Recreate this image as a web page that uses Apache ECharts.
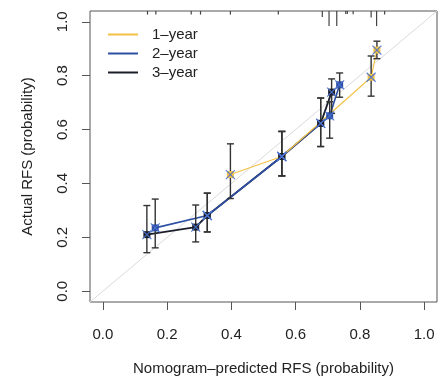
<!DOCTYPE html>
<html>
<head>
<meta charset="utf-8">
<script src="https://cdn.jsdelivr.net/npm/echarts@6/dist/echarts.min.js"></script>
<style>
html,body{margin:0;padding:0;background:#fff;}
#c{width:446px;height:381px;}
</style>
</head>
<body>
<div id="c"></div>
<script>
// ---- data ----
const axisMin = -0.04, axisMax = 1.04;
const tickValues = [0, 0.2, 0.4, 0.6, 0.8, 1.0];
const tickLabels = ['0.0', '0.2', '0.4', '0.6', '0.8', '1.0'];
const seriesNames = ['1\u2013year', '2\u2013year', '3\u2013year'];

const y1x = [0.397, 0.557, 0.835, 0.853];
const y1y = [0.433, 0.500, 0.794, 0.895];
const y1lo = [0.344, 0.428, 0.724, 0.863];
const y1hi = [0.547, 0.593, 0.873, 0.928];

const y2x = [0.163, 0.325, 0.557, 0.678, 0.706, 0.737];
const y2y = [0.235, 0.281, 0.500, 0.623, 0.651, 0.766];
const y2lo = [0.161, 0.220, 0.428, 0.537, 0.568, 0.720];
const y2hi = [0.342, 0.364, 0.593, 0.717, 0.703, 0.810];

const y3x = [0.137, 0.289, 0.325, 0.557, 0.678, 0.712];
const y3y = [0.210, 0.238, 0.281, 0.500, 0.623, 0.739];
const y3lo = [0.143, 0.183, 0.220, 0.428, 0.537, 0.660];
const y3hi = [0.318, 0.320, 0.364, 0.593, 0.717, 0.788];

const rugX = [0.139, 0.165, 0.275, 0.304, 0.397, 0.546, 0.683, 0.704, 0.728, 0.756, 0.761, 0.779, 0.835, 0.852, 0.877];
const rugCount = [1, 1, 1, 1, 1, 1, 1.7, 4.2, 4.2, 0.8, 0.8, 0.9, 1.8, 4.2, 1];

// ---- build ----
const colors = ['#F3C144', '#2C4FA3', '#1c1f2a'];
const xs = [y1x, y2x, y3x], ys = [y1y, y2y, y3y], los = [y1lo, y2lo, y3lo], his = [y1hi, y2hi, y3hi];
const font = 'Liberation Sans, Arial, Helvetica, sans-serif';
const lineZ = [2.3, 2.2, 2.1];
const lineW = [1.1, 1.6, 1.8];

const series = [];
// diagonal reference
series.push({
  type: 'line', data: [[axisMin, axisMin], [axisMax, axisMax]],
  showSymbol: false, silent: true, z: 1,
  lineStyle: { color: '#dadada', width: 1 }, legendHoverLink: false
});
// lines
for (let s = 0; s < 3; s++) {
  series.push({
    name: seriesNames[s], type: 'line', z: lineZ[s],
    data: xs[s].map((x, i) => [x, ys[s][i]]),
    showSymbol: false, color: colors[s],
    lineStyle: { color: colors[s], width: lineW[s] }
  });
}
// error bars
for (let s = 0; s < 3; s++) {
  series.push({
    type: 'custom', z: 3, silent: true,
    data: xs[s].map((x, i) => [x, los[s][i], his[s][i]]),
    renderItem: function (params, api) {
      const x = api.value(0);
      const p1 = api.coord([x, api.value(1)]);
      const p2 = api.coord([x, api.value(2)]);
      const hw = 3.5;
      const st = { stroke: '#333', lineWidth: 1.4 };
      return {
        type: 'group', children: [
          { type: 'line', shape: { x1: p1[0], y1: p1[1], x2: p2[0], y2: p2[1] }, style: st },
          { type: 'line', shape: { x1: p1[0] - hw, y1: p1[1], x2: p1[0] + hw, y2: p1[1] }, style: st },
          { type: 'line', shape: { x1: p2[0] - hw, y1: p2[1], x2: p2[0] + hw, y2: p2[1] }, style: st }
        ]
      };
    }
  });
}
// markers: squares + x
for (let s = 0; s < 3; s++) {
  const d = xs[s].map((x, i) => [x, ys[s][i]]);
  series.push({
    type: 'scatter', z: 4, silent: true, data: d,
    symbol: 'rect', symbolSize: 7,
    itemStyle: { color: colors[s], opacity: 1 }
  });
  series.push({
    type: 'scatter', z: 5, silent: true, data: d,
    symbol: 'path://M0,0L10,10M10,0L0,10', symbolSize: 9,
    itemStyle: { color: 'transparent', borderColor: '#4A72D0', borderWidth: 1.2, opacity: 0.9 }
  });
}
// rug
series.push({
  type: 'custom', z: 3, silent: true,
  data: rugX.map((x, i) => [x, rugCount[i]]),
  renderItem: function (params, api) {
    const top = api.coord([api.value(0), axisMax]);
    const len = api.value(1) * 3.6;
    return { type: 'line', shape: { x1: top[0], y1: top[1], x2: top[0], y2: top[1] + len }, style: { stroke: '#444', lineWidth: 1.2 } };
  }
});

const labelFmt = v => {
  const i = tickValues.findIndex(t => Math.abs(t - v) < 1e-9);
  return i >= 0 ? tickLabels[i] : '';
};

const chart = echarts.init(document.getElementById('c'), null, { renderer: 'canvas' });
chart.setOption({
  animation: false,
  backgroundColor: '#fff',
  textStyle: { fontFamily: font },
  grid: { left: 90, right: 9, top: 11, bottom: 76, show: true, borderColor: '#555', borderWidth: 1, backgroundColor: 'transparent' },
  legend: {
    orient: 'vertical', left: 103, top: 22, icon: 'rect', itemWidth: 30, itemHeight: 2, itemGap: 4,
    data: seriesNames,
    textStyle: { fontSize: 15, color: '#222', fontFamily: font, lineHeight: 15, padding: [0, 0, 0, 9] }
  },
  xAxis: {
    type: 'value', min: axisMin, max: axisMax,
    name: 'Nomogram\u2013predicted RFS (probability)', nameLocation: 'middle', nameGap: 59,
    nameTextStyle: { fontSize: 15, color: '#222', fontFamily: font },
    axisLine: { show: false, onZero: false },
    splitLine: { show: false },
    axisTick: { show: true, inside: false, customValues: tickValues, length: 8, lineStyle: { color: '#555' } },
    axisLabel: { customValues: tickValues, formatter: labelFmt, fontSize: 15, color: '#222', margin: 25, fontFamily: font }
  },
  yAxis: {
    type: 'value', min: axisMin, max: axisMax,
    name: 'Actual RFS (probability)', nameLocation: 'middle', nameGap: 55, nameRotate: 90,
    nameTextStyle: { fontSize: 15, color: '#222', fontFamily: font },
    axisLine: { show: false, onZero: false },
    splitLine: { show: false },
    axisTick: { show: true, inside: false, customValues: tickValues, length: 8, lineStyle: { color: '#555' } },
    axisLabel: { customValues: tickValues, formatter: labelFmt, rotate: 90, fontSize: 15, color: '#222', margin: 20, fontFamily: font }
  },
  series: series
});
</script>
</body>
</html>
